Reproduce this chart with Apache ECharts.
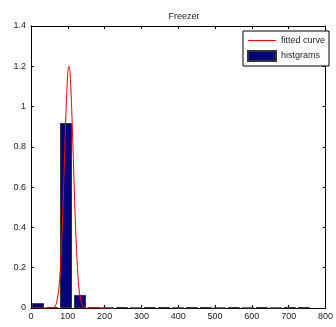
<!DOCTYPE html>
<html><head><meta charset="utf-8">
<script src="https://cdn.jsdelivr.net/npm/echarts@6/dist/echarts.min.js"></script>
<style>html,body{margin:0;padding:0;background:#fff}#c{width:336px;height:327px}</style>
</head><body><div id="c"></div>
<script>
var titleText = 'Freezer';
var binCenters = [19, 57, 95, 133, 171, 209, 247, 285, 323, 361, 399, 437, 475, 513, 551, 589, 627, 665, 703, 741];
var histValues = [0.024, 0.003, 0.918, 0.065, 0.003, 0, 0.003, 0, 0.003, 0.003, 0, 0.003, 0.003, 0, 0.003, 0, 0.003, 0, 0.003, 0.003];
var curveX = [10, 20, 30, 40, 50, 60, 65, 70, 75, 80, 85, 90, 95, 100, 103, 106, 110, 115, 120, 125, 130, 135, 140, 145, 150, 175, 205];
var curveY = [0, 0, 0, 0, 0, 0.001, 0.006, 0.031, 0.086, 0.2, 0.4, 0.68, 0.97, 1.17, 1.2, 1.17, 1.02, 0.74, 0.45, 0.24, 0.1, 0.039, 0.012, 0.003, 0, 0, 0];
var xTicks = [0, 800, 100];
var yTicks = [0, 1.4, 0.2];
var legendNames = ['fitted curve', 'histgrams'];

var FONT = "'Liberation Sans', Arial, sans-serif";
var chart = echarts.init(document.getElementById('c'));
function axisBase(extra) {
  return Object.assign({
    axisLine: {show: true, onZero: false, lineStyle: {color: '#000', width: 1}},
    axisTick: {show: true, inside: true, length: 3, lineStyle: {color: '#000'}},
    splitLine: {show: false}
  }, extra);
}
var xa = {type: 'value', min: xTicks[0], max: xTicks[1], interval: xTicks[2]};
var ya = {type: 'value', min: yTicks[0], max: yTicks[1], interval: yTicks[2]};
chart.setOption({
  animation: false,
  backgroundColor: '#fff',
  title: {text: titleText, left: 179, top: 7, textAlign: 'center',
    textStyle: {fontFamily: FONT, fontSize: 9, fontWeight: 'normal', color: '#222'}},
  grid: {left: 31, right: 8, top: 26, bottom: 19, show: false},
  xAxis: [
    axisBase(Object.assign({}, xa, {position: 'bottom',
      axisLabel: {fontFamily: FONT, fontSize: 9, color: '#222', margin: 4}})),
    axisBase(Object.assign({}, xa, {position: 'top', axisLabel: {show: false}}))
  ],
  yAxis: [
    axisBase(Object.assign({}, ya, {position: 'left',
      axisLabel: {fontFamily: FONT, fontSize: 9, color: '#222', margin: 5}})),
    axisBase(Object.assign({}, ya, {position: 'right', axisLabel: {show: false}}))
  ],
  legend: {
    show: true,
    orient: 'vertical', left: 243, top: 31,
    padding: [5, 4, 4, 4], itemGap: 5, itemWidth: 28, itemHeight: 10,
    backgroundColor: '#fff', borderColor: '#000', borderWidth: 1, borderRadius: 0,
    textStyle: {fontFamily: FONT, fontSize: 9, color: '#222'},
    data: [
      {name: legendNames[0], itemStyle: {color: 'rgba(0,0,0,0)', borderWidth: 0, borderColor: 'rgba(0,0,0,0)'},
        lineStyle: {color: '#ff0000', width: 1}},
      {name: legendNames[1], icon: 'rect'}
    ]
  },
  series: [
    {
      name: legendNames[1], type: 'bar', barWidth: 12,
      itemStyle: {color: '#000080', borderColor: '#333', borderWidth: 1},
      data: binCenters.map(function (c, i) { return [c, histValues[i]]; }),
      z: 2
    },
    {
      name: legendNames[0], type: 'line', symbol: 'none', showSymbol: false, smooth: 0.3,
      lineStyle: {color: '#ff0000', width: 1},
      itemStyle: {color: '#ff0000'},
      data: curveX.map(function (x, i) { return [x, curveY[i]]; }),
      z: 3
    }
  ]
});
</script>
</body></html>
